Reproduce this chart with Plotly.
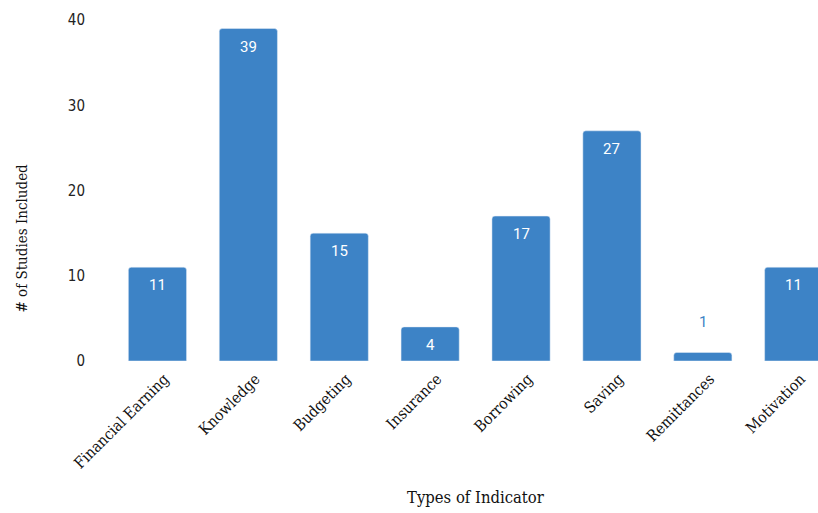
import plotly.graph_objects as go

# Indicator categories and study counts
categories = ["Financial Earning", "Knowledge", "Budgeting", "Insurance",
              "Borrowing", "Saving", "Remittances", "Motivation"]
counts = [11, 39, 15, 4, 17, 27, 1, 11]
y_ticks = [0, 10, 20, 30, 40]

bar_color = "#3d83c6"
serif = "DejaVu Serif Condensed, DejaVu Serif, serif"

fig = go.Figure()
fig.add_trace(go.Bar(
    x=categories,
    y=counts,
    marker=dict(color=bar_color, cornerradius=3),
    width=0.64,
    hoverinfo="skip",
))

# Value labels: inside the top of tall bars, above very short ones
for cat, val in zip(categories, counts):
    inside = val >= 3
    fig.add_annotation(
        x=cat, y=val, xref="x", yref="y",
        text=str(val), showarrow=False,
        yshift=-18 if inside else 30,
        font=dict(family="Roboto, sans-serif", size=15,
                  color="white" if inside else bar_color),
    )

fig.add_annotation(
    x=0.516, y=-0.4, xref="paper", yref="paper",
    xanchor="center", yanchor="middle",
    text="Types of Indicator", showarrow=False,
    font=dict(family=serif, size=16.5, color="#111111"),
)
fig.add_annotation(
    x=-0.127, y=0.36, xref="paper", yref="paper",
    xanchor="center", yanchor="middle", textangle=-90,
    text="# of Studies Included", showarrow=False,
    font=dict(family=serif, size=15, color="#111111"),
)

fig.update_layout(
    width=818, height=513,
    margin=dict(l=112, r=0, t=20, b=152),
    paper_bgcolor="white", plot_bgcolor="white",
    showlegend=False,
    xaxis=dict(
        range=[-0.5, 7.267],
        tickangle=-45,
        tickfont=dict(family=serif, size=15.5, color="#111111"),
        ticklabelshift=7,
        ticklabelstandoff=5,
        showgrid=False, zeroline=False, showline=False,
    ),
    yaxis=dict(
        range=[0, 40],
        tickvals=y_ticks,
        tickfont=dict(family="DejaVu Sans Condensed, sans-serif",
                      size=15, color="#222222"),
        ticklabelstandoff=26,
        showgrid=False, zeroline=False, showline=False,
    ),
)

fig.write_html("out.html")
